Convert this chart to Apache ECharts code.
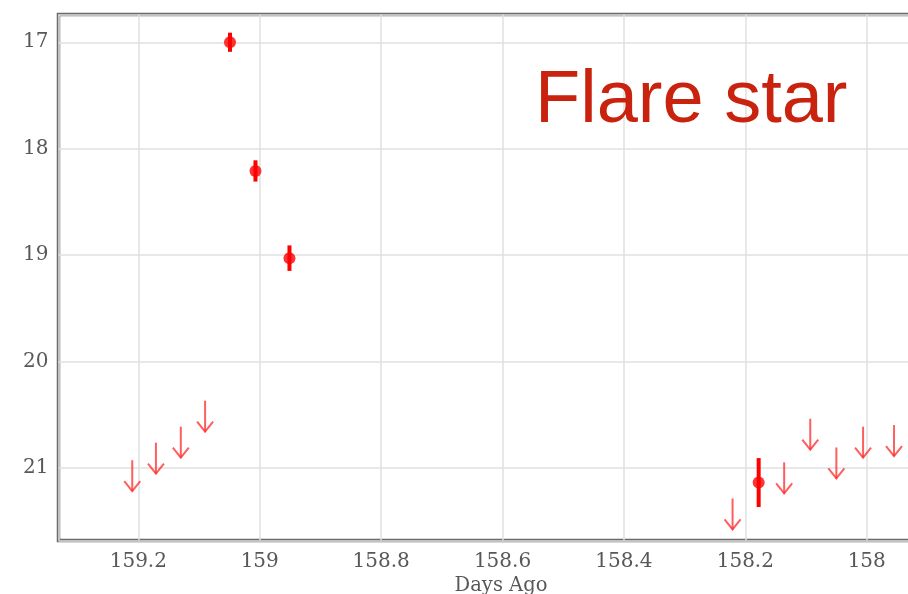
<!DOCTYPE html>
<html>
<head>
<meta charset="utf-8">
<title>Flare star light curve</title>
<script src="https://cdn.jsdelivr.net/npm/echarts@6/dist/echarts.min.js"></script>
<style>
  html, body { margin: 0; padding: 0; background: #ffffff; }
  #chart { width: 908px; height: 594px; }
</style>
</head>
<body>
<div id="chart"></div>
<script>
// Detections: time (days ago), magnitude, 1-sigma error
const detDays = [159.049, 159.007, 158.951, 158.178];
const detMags = [17.00, 18.21, 19.03, 21.14];
const detErrs = [0.09, 0.10, 0.12, 0.23];

// Non-detections: time (days ago) and limiting magnitude (arrow start)
const limDays = [159.210, 159.171, 159.130, 159.090, 158.221, 158.136, 158.093, 158.050, 158.006, 157.955];
const limMags = [20.93, 20.765, 20.615, 20.37, 21.29, 20.95, 20.54, 20.81, 20.615, 20.60];

const xTitle = 'Days Ago';
const panelTitle = 'Flare star';

const detPoints = detDays.map((d, i) => [d, detMags[i]]);
const detBars = detDays.map((d, i) => [d, detMags[i], detErrs[i]]);
const limPoints = limDays.map((d, i) => [d, limMags[i]]);

const serif = '"DejaVu Serif", serif';
const labelGrey = '#585858';
const markRed = '#ff0000';
const limitRed = 'rgba(255, 40, 40, 0.75)';

const chart = echarts.init(document.getElementById('chart'), null, { renderer: 'canvas' });

chart.setOption({
  animation: false,
  backgroundColor: '#ffffff',
  grid: {
    left: 58.5, right: -35.5, top: 14.5, bottom: 53.5,
    outerBoundsMode: 'none',
    containLabel: false,
    show: true, borderColor: '#6a6a6a', borderWidth: 3.5, backgroundColor: 'transparent'
  },
  xAxis: {
    type: 'value',
    inverse: true,
    min: 157.8735,
    max: 159.3315,
    minInterval: 0.2,
    maxInterval: 0.2,
    name: xTitle,
    nameLocation: 'middle',
    nameGap: 30,
    nameTextStyle: { fontFamily: serif, fontSize: 19.5, color: labelGrey },
    axisLine: { show: false },
    axisTick: { show: false },
    axisLabel: {
      fontFamily: serif, fontSize: 20, color: labelGrey, margin: 11,
      showMinLabel: false, showMaxLabel: false
    },
    splitLine: { show: true, lineStyle: { color: '#e0e0e0', width: 1.5 } }
  },
  yAxis: {
    type: 'value',
    inverse: true,
    min: 16.739,
    max: 21.685,
    minInterval: 1,
    maxInterval: 1,
    axisLine: { show: false },
    axisTick: { show: false },
    axisLabel: {
      fontFamily: serif, fontSize: 20, color: labelGrey, margin: 10,
      showMinLabel: false, showMaxLabel: false
    },
    splitLine: { show: true, lineStyle: { color: '#e0e0e0', width: 1.5 } }
  },
  series: [
    {
      // upper limits drawn as downward arrows
      type: 'custom',
      data: limPoints,
      renderItem: function (params, api) {
        const p = api.coord([api.value(0), api.value(1)]);
        const x = p[0], y = p[1];
        const len = 31;
        return {
          type: 'group',
          children: [
            { type: 'line', shape: { x1: x, y1: y, x2: x, y2: y + len },
              style: { stroke: limitRed, lineWidth: 2 } },
            { type: 'polyline', shape: { points: [[x - 8, y + len - 10], [x, y + len], [x + 8, y + len - 10]] },
              style: { stroke: limitRed, lineWidth: 2, fill: null } }
          ]
        };
      },
      z: 3
    },
    {
      // error bars on detections
      type: 'custom',
      data: detBars,
      renderItem: function (params, api) {
        const d = api.value(0), m = api.value(1), e = api.value(2);
        const lo = api.coord([d, m - e]);
        const hi = api.coord([d, m + e]);
        return {
          type: 'line',
          shape: { x1: lo[0], y1: lo[1], x2: hi[0], y2: hi[1] },
          style: { stroke: markRed, lineWidth: 4 }
        };
      },
      z: 4
    },
    {
      type: 'scatter',
      data: detPoints,
      symbol: 'circle',
      symbolSize: 12,
      itemStyle: { color: markRed },
      z: 5
    }
  ],
  graphic: [
    {
      type: 'text',
      z: 10,
      style: {
        x: 535, y: 102,
        text: panelTitle,
        font: '74px "Liberation Sans", Arial, sans-serif',
        fill: '#c9230f',
        verticalAlign: 'middle',
        align: 'left'
      }
    }
  ]
});
</script>
</body>
</html>
